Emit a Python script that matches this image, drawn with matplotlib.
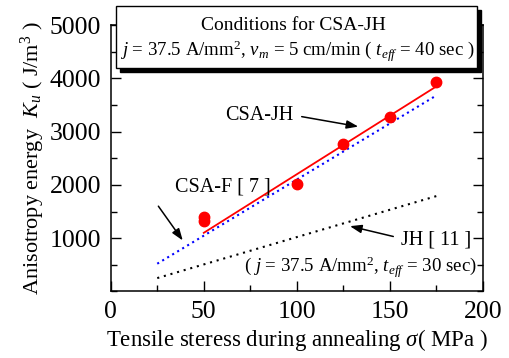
import matplotlib
matplotlib.use("Agg")
import matplotlib.pyplot as plt
from matplotlib.patches import Rectangle, FancyArrowPatch
from matplotlib.ticker import MultipleLocator

plt.rcParams['font.family'] = ['Liberation Serif', 'DejaVu Serif']
plt.rcParams['mathtext.fontset'] = 'custom'
plt.rcParams['mathtext.rm'] = 'Liberation Serif'
plt.rcParams['mathtext.it'] = 'Liberation Serif:italic'

# data
pts_x = [50, 50, 100, 125, 150, 175]
pts_y = [1390, 1330, 2015, 2765, 3275, 3935]
fit_x = [50, 175]
fit_y = [1100, 3850]
csaf_x = [25, 175]
csaf_y = [520, 3680]
jh_x = [25, 175]
jh_y = [250, 1790]

fig = plt.figure(figsize=(5.09, 3.58), dpi=100)
ax = fig.add_axes([0.2175, 0.186, 0.7315, 0.744])

ax.plot(fit_x, fit_y, color='#ff0000', lw=1.3, zorder=3)
ax.plot(pts_x, pts_y, 'o', color='#ff0000', ms=7.5, zorder=4)
ax.plot(csaf_x, csaf_y, color='#0000ff', lw=1.5, ls=(0, (1, 1.8)), zorder=2)
ax.plot(jh_x, jh_y, color='black', lw=1.5, ls=(0, (1, 2.3)), zorder=2)

ax.set_xlim(0, 200)
ax.set_ylim(0, 5000)
ax.xaxis.set_major_locator(MultipleLocator(50))
ax.xaxis.set_minor_locator(MultipleLocator(25))
ax.yaxis.set_minor_locator(MultipleLocator(500))
ax.set_yticks([1000, 2000, 3000, 4000, 5000])
ax.tick_params(which='both', direction='in', left=True, right=True, bottom=True, top=False,
               labelsize=18.5, width=1)
ax.tick_params(which='major', length=7, pad=7)
ax.tick_params(which='minor', length=4)
for s in ax.spines.values():
    s.set_linewidth(1.1)

ax.set_xlabel(r'Tensile steress during annealing $\sigma$( MPa )', fontsize=16.5, labelpad=3)
ax.set_ylabel(r'Anisotropy energy  $K_u$ ( J/m$^3$ )', fontsize=16, labelpad=2)

def arrow(start, end):
    ax.add_patch(FancyArrowPatch(start, end, arrowstyle='-|>,head_length=0.7,head_width=0.25',
                                 color='black', lw=1.1, mutation_scale=10,
                                 shrinkA=0, shrinkB=0, zorder=6))

ax.text(80, 3300, 'CSA-JH', fontsize=14.5, ha='center', va='center')
arrow((102.6, 3281), (133, 3094))
ax.text(60, 1960, 'CSA-F [ 7 ]', fontsize=14.5, ha='center', va='center')
arrow((25.6, 1600), (38.7, 956))
ax.text(175, 956, 'JH [ 11 ]', fontsize=14.5, ha='center', va='center')
arrow((151.8, 1031), (128.5, 1225))
ax.text(134, 456, r'( $j$ = 37.5 A/mm$^2$, $t_{eff}$ = 30 sec)', fontsize=13.6,
        ha='center', va='center')

# conditions box (figure coords) with shadow
bx, by, bw, bh = 116/509, 1-68.3/358, 361/509, 62.3/358
fig.patches.append(Rectangle((bx + 3.5/509, by - 3.5/358), bw, bh, transform=fig.transFigure,
                             facecolor='black', edgecolor='black', zorder=10))
fig.patches.append(Rectangle((bx, by), bw, bh, transform=fig.transFigure,
                             facecolor='white', edgecolor='black', lw=1.0, zorder=11))
fig.text(0.576, 1-26/358, 'Conditions for CSA-JH', fontsize=14, ha='center', va='center', zorder=12)
fig.text(0.584, 1-51/358, r'$j$ = 37.5 A/mm$^2$, $v_m$ = 5 cm/min ( $t_{eff}$ = 40 sec )',
         fontsize=13.6, ha='center', va='center', zorder=12)

fig.savefig('out.png', dpi=100)
